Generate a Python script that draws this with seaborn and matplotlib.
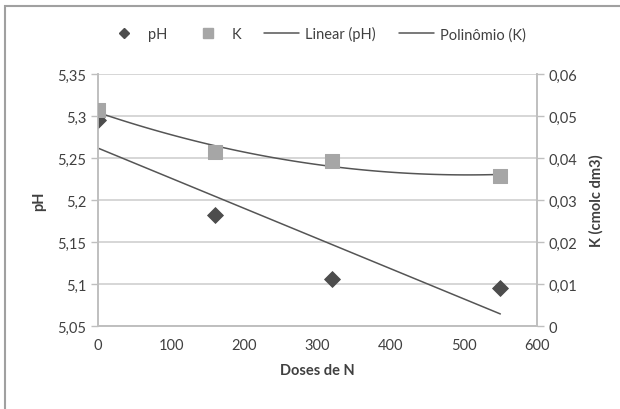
import numpy as np
import pandas as pd
import matplotlib
matplotlib.use("Agg")
import matplotlib.pyplot as plt
from matplotlib.lines import Line2D
from matplotlib.patches import Rectangle
import seaborn as sns

# Data
doses = [0, 160, 320, 550]
ph = [5.295, 5.182, 5.106, 5.095]
k = [0.0514, 0.0414, 0.0393, 0.0358]

df = pd.DataFrame({"dose": doses, "ph": ph, "k": k})

sns.set_style("white")
plt.rcParams["font.family"] = ["Lato", "DejaVu Sans"]

grid_col = "#d0d0d0"
axis_col = "#bfbfbf"
text_col = "#404040"

fig = plt.figure(figsize=(6.2, 4.1), dpi=100)
ax = fig.add_axes([0.158, 0.202, 0.708, 0.615])
ax2 = ax.twinx()

# pH markers and linear trend
sns.scatterplot(data=df, x="dose", y="ph", ax=ax, marker="D", s=65,
                color="#4d4d4d", edgecolor="#4d4d4d", zorder=5)
sns.regplot(data=df, x="dose", y="ph", ax=ax, scatter=False, ci=None,
            truncate=True, color="#555555", line_kws={"lw": 1.1})

# K markers and 2nd-order polynomial trend
sns.scatterplot(data=df, x="dose", y="k", ax=ax2, marker="s", s=90,
                color="#a6a6a6", edgecolor="#a6a6a6", zorder=5)
sns.regplot(data=df, x="dose", y="k", ax=ax2, scatter=False, ci=None,
            order=2, truncate=True, color="#555555", line_kws={"lw": 1.1})

ax.set_xlim(0, 600)
ax.set_ylim(5.05, 5.35)
ax2.set_ylim(0, 0.06)
ax.set_xticks(np.arange(0, 601, 100))
ax.set_yticks(np.arange(5.05, 5.351, 0.05))
ax2.set_yticks(np.arange(0, 0.0601, 0.01))

ax.set_xticklabels([str(v) for v in range(0, 601, 100)])
ax.set_yticklabels(["5,05", "5,1", "5,15", "5,2", "5,25", "5,3", "5,35"])
ax2.set_yticklabels(["0", "0,01", "0,02", "0,03", "0,04", "0,05", "0,06"])

ax.yaxis.grid(True, color=grid_col, lw=1.2)
ax.set_axisbelow(True)

for a in (ax, ax2):
    a.spines["top"].set_visible(False)
    for side in ("left", "right", "bottom"):
        a.spines[side].set_color(axis_col)
        a.spines[side].set_linewidth(1.2)
    a.tick_params(axis="both", colors=axis_col, labelcolor=text_col,
                  labelsize=10.5, length=5, width=1, direction="out")

ax.set_xlabel("Doses de N", fontsize=10.5, fontweight="bold", color=text_col, labelpad=8)
ax.set_ylabel("pH", fontsize=10.5, fontweight="bold", color=text_col, labelpad=8)
ax2.set_ylabel("K (cmolc dm3)", fontsize=10.5, fontweight="bold", color=text_col, labelpad=8)

handles = [
    Line2D([], [], marker="D", ls="none", color="#4d4d4d", markersize=5.5),
    Line2D([], [], marker="s", ls="none", color="#a6a6a6", markersize=6.5),
    Line2D([], [], color="#555555", lw=1.1),
    Line2D([], [], color="#555555", lw=1.1),
]
labels = ["pH", "K", "Linear (pH)", "Polinômio (K)"]
fig.legend(handles, labels, loc="center", bbox_to_anchor=(0.51, 0.915), ncol=4,
           frameon=False, fontsize=10.5, handlelength=2.4, columnspacing=1.6,
           handletextpad=0.4, labelcolor=text_col)

# outer chart border
fig.patches.append(Rectangle((0.008, -0.05), 1.1, 1.033, transform=fig.transFigure,
                             fill=False, edgecolor="#a0a0a0", lw=1.5))

fig.savefig("out.png", dpi=100)
